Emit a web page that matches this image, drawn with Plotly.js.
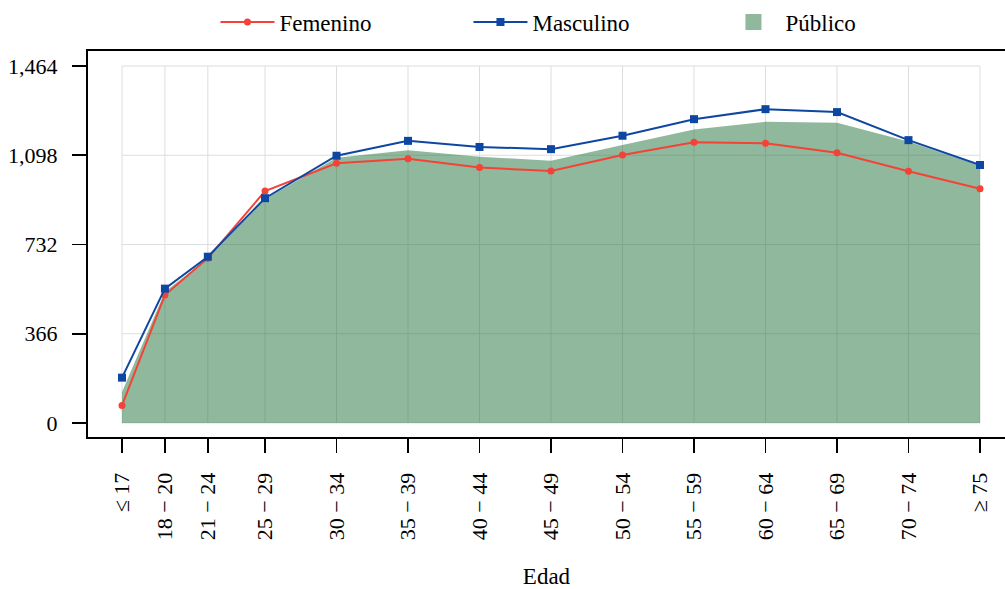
<!DOCTYPE html>
<html>
<head>
<meta charset="utf-8">
<script src="https://cdn.plot.ly/plotly-3.0.1.min.js"></script>
<style>html,body{margin:0;padding:0;background:#fff;}</style>
</head>
<body>
<div id="chart" style="width:1005px;height:589px;"></div>
<script>
// Age groups and their positions on the age axis
const ageLabels = ["≤ 17", "18 − 20", "21 − 24", "25 − 29", "30 − 34", "35 − 39", "40 − 44",
                   "45 − 49", "50 − 54", "55 − 59", "60 − 64", "65 − 69", "70 − 74", "≥ 75"];
const agePos = [17, 20, 23, 27, 32, 37, 42, 47, 52, 57, 62, 67, 72, 77];

// Series values
const femenino  = [72, 525, 676, 951, 1065, 1084, 1048, 1033, 1099, 1151, 1147, 1108, 1032, 961];
const masculino = [186, 551, 682, 922, 1096, 1157, 1132, 1123, 1178, 1246, 1287, 1275, 1160, 1058];
const publico   = [127, 538, 676, 918, 1088, 1119, 1092, 1075, 1140, 1204, 1235, 1231, 1154, 1054];

// Y tick values
const yTicks = [0, 366, 732, 1098, 1464];

const FONT = "'Liberation Serif', 'Times New Roman', serif";
const areaColor = "rgba(31,113,59,0.5)";
const gridColor = "#dddddd";

const traces = [
  {
    x: agePos, y: publico, type: "scatter", mode: "none",
    fill: "tozeroy", fillcolor: areaColor, name: "Público", showlegend: false
  },
  {
    x: agePos, y: femenino, type: "scatter", mode: "lines+markers", name: "Femenino",
    line: {color: "#F44336", width: 2},
    marker: {symbol: "circle", size: 7, color: "#F44336"}
  },
  {
    x: agePos, y: masculino, type: "scatter", mode: "lines+markers", name: "Masculino",
    line: {color: "#0D47A1", width: 2},
    marker: {symbol: "square", size: 8, color: "#0D47A1"}
  },
  {
    x: [null], y: [null], type: "scatter", mode: "markers", name: "Público",
    marker: {symbol: "square", size: 22, color: areaColor}
  }
];

const xMin = agePos[0], xMax = agePos[agePos.length - 1];
const yMin = yTicks[0], yMax = yTicks[yTicks.length - 1];
const shapes = [];
agePos.forEach(v => shapes.push({
  type: "line", xref: "x", yref: "y", x0: v, x1: v, y0: yMin, y1: yMax,
  layer: "below", line: {color: gridColor, width: 1}
}));
yTicks.forEach(v => shapes.push({
  type: "line", xref: "x", yref: "y", x0: xMin, x1: xMax, y0: v, y1: v,
  layer: "below", line: {color: gridColor, width: 1}
}));

const layout = {
  width: 1005, height: 589,
  margin: {l: 88, r: 0, t: 51, b: 152, autoexpand: false},
  paper_bgcolor: "#ffffff", plot_bgcolor: "#ffffff",
  font: {family: FONT, size: 22, color: "#000000"},
  showlegend: true,
  legend: {
    orientation: "h", x: 0.139, xanchor: "left", y: 1.075, yanchor: "middle",
    font: {family: FONT, size: 23, color: "#000"},
    itemwidth: 54,
    entrywidth: 184, entrywidthmode: "pixels",
    bgcolor: "rgba(0,0,0,0)"
  },
  xaxis: {
    range: [14.62, 78.75],
    tickmode: "array", tickvals: agePos, ticktext: ageLabels, tickangle: -90,
    ticks: "outside", ticklen: 14, tickwidth: 1.8, tickcolor: "#000",
    ticklabelstandoff: 11,
    showline: true, linewidth: 2, linecolor: "#000", mirror: true,
    showgrid: false, zeroline: false,
    tickfont: {family: FONT, size: 22, color: "#000"},
    title: {text: "Edad", font: {family: FONT, size: 23, color: "#000"}, standoff: 34}
  },
  yaxis: {
    range: [-57.4, 1525.5],
    tickmode: "array", tickvals: yTicks, tickformat: ",d",
    ticks: "outside", ticklen: 14, tickwidth: 1.8, tickcolor: "#000",
    ticklabelstandoff: 10,
    showline: true, linewidth: 2, linecolor: "#000", mirror: false,
    showgrid: false, zeroline: false,
    tickfont: {family: FONT, size: 22, color: "#000"}
  },
  shapes: shapes
};

Plotly.newPlot("chart", traces, layout, {displayModeBar: false, staticPlot: true});
</script>
</body>
</html>
